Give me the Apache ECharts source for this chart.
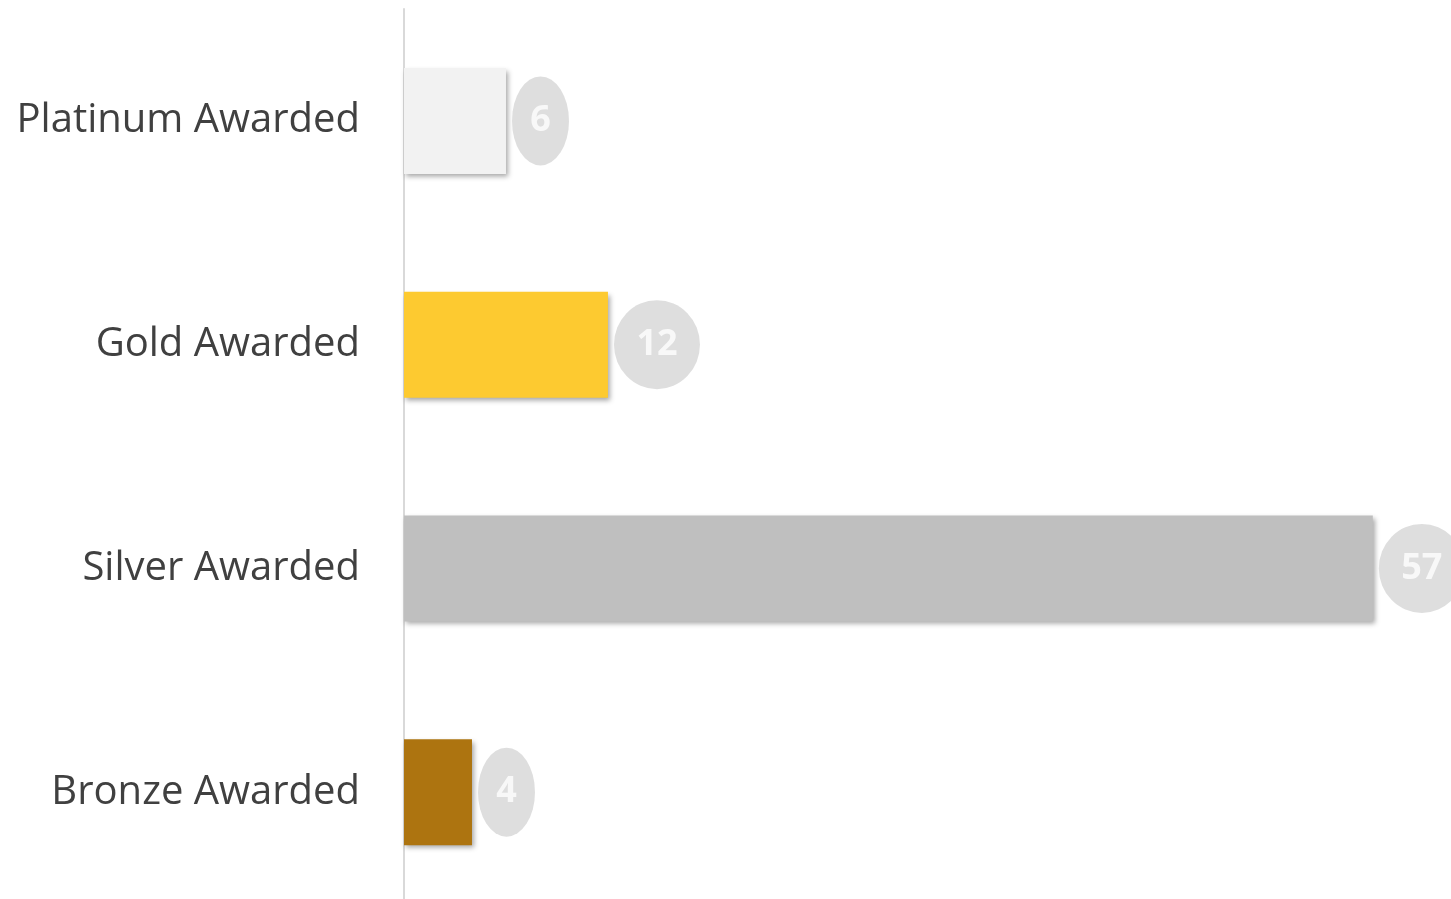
<!DOCTYPE html>
<html>
<head>
<meta charset="utf-8">
<script src="https://cdn.jsdelivr.net/npm/echarts@6/dist/echarts.min.js"></script>
<style>
  html, body { margin: 0; padding: 0; background: #fff; overflow: hidden; }
  #chart { width: 1451px; height: 910px; }
</style>
</head>
<body>
<div id="chart"></div>
<script>
// categories top to bottom
const categories = ["Platinum Awarded", "Gold Awarded", "Silver Awarded", "Bronze Awarded"];
const awardCounts = [6, 12, 57, 4];
const barColors = ["#f2f2f2", "#fdca30", "#bfbfbf", "#ad7410"];

var myChart = echarts.init(document.getElementById("chart"));

// badge width grows with number of digits
const badgeSize = (v) => [String(v).length > 1 ? 86 : 57, 89];

myChart.setOption({
  animation: false,
  grid: { left: 404, right: 0, top: 9, height: 895 },
  xAxis: {
    type: "value",
    min: 0,
    max: 61.6,
    show: false,
  },
  yAxis: {
    type: "category",
    inverse: true,
    data: categories,
    axisLine: { show: true, lineStyle: { color: "#d9d9d9", width: 2 } },
    axisTick: { show: false },
    axisLabel: {
      margin: 44,
      fontSize: 40,
      color: "#404040",
      fontFamily: "Open Sans",
    },
  },
  series: [
    {
      name: "Awards",
      type: "bar",
      barWidth: 106,
      data: awardCounts.map((v, i) => ({
        value: v,
        itemStyle: {
          color: barColors[i],
          shadowColor: "rgba(0,0,0,0.35)",
          shadowBlur: 5,
          shadowOffsetX: 2,
          shadowOffsetY: 3,
        },
      })),
    },
    {
      name: "Badges",
      type: "scatter",
      symbol: "circle",
      data: awardCounts.map((v, i) => ({
        value: [v, categories[i]],
        symbolSize: badgeSize(v),
        symbolOffset: [badgeSize(v)[0] / 2 + 6, 0],
      })),
      itemStyle: { color: "#d6d6d6" },
      label: {
        show: true,
        position: "inside",
        formatter: (p) => p.value[0],
        color: "#ffffff",
        fontSize: 36,
        fontWeight: "bold",
        fontFamily: "Open Sans",
      },
      z: 3,
    },
  ],
});
</script>
</body>
</html>
